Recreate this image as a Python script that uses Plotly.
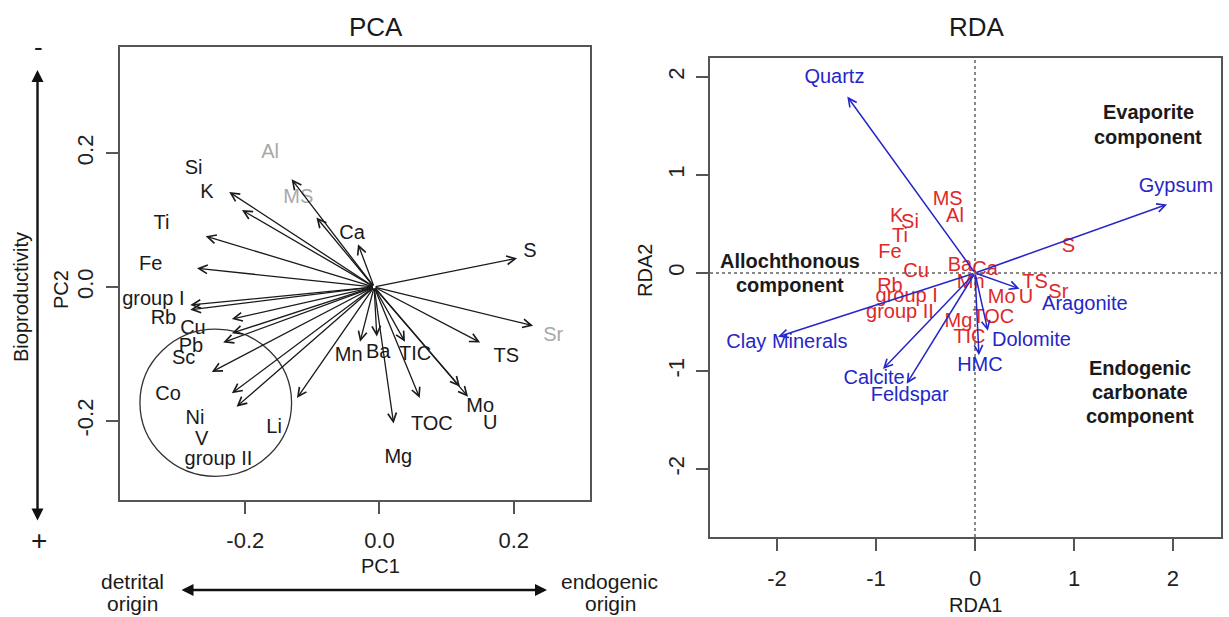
import plotly.graph_objects as go

W, H = 1229, 617
FONT = "Liberation Sans, Arial, sans-serif"

# ---------------- PCA data ----------------
pca_arrow_names = ["S", "Sr", "TS", "Mo", "U", "TOC", "Mg", "TIC", "Ba", "Mn", "Ca", "MS", "Al",
                   "K", "Si", "Ti", "Fe", "group I", "Rb", "Cu", "Pb", "Sc", "Co", "Ni", "V", "Li"]
pca_pc1 = [0.205, 0.229, 0.150, 0.132, 0.120, 0.060, 0.021, 0.038, -0.004, -0.029, -0.032, -0.094, -0.131,
           -0.224, -0.205, -0.259, -0.272, -0.282, -0.282, -0.220, -0.220, -0.233, -0.250, -0.220, -0.213, -0.123]
pca_pc2 = [0.043, -0.058, -0.083, -0.164, -0.149, -0.166, -0.204, -0.082, -0.074, -0.082, 0.064, 0.104, 0.161,
           0.142, 0.115, 0.076, 0.028, -0.027, -0.034, -0.048, -0.069, -0.083, -0.127, -0.159, -0.179, -0.166]
pca_origin = (-0.008, 0.0)

pca_label_text = ["S", "Sr", "TS", "Mo", "U", "TOC", "Mg", "TIC", "Ba", "Mn", "Ca", "MS", "Al",
                  "K", "Si", "Ti", "Fe", "group I", "Rb", "Cu", "Pb", "Sc", "Co", "Ni", "V", "Li", "group II"]
pca_label_x = [0.224, 0.259, 0.189, 0.150, 0.165, 0.078, 0.028, 0.053, -0.002, -0.046, -0.041, -0.121, -0.163,
               -0.257, -0.277, -0.325, -0.341, -0.337, -0.322, -0.278, -0.281, -0.292, -0.315, -0.275, -0.265, -0.157, -0.240]
pca_label_y = [0.052, -0.074, -0.105, -0.179, -0.205, -0.206, -0.256, -0.102, -0.099, -0.103, 0.079, 0.133, 0.200,
               0.141, 0.176, 0.094, 0.033, -0.019, -0.048, -0.063, -0.089, -0.108, -0.161, -0.198, -0.228, -0.211, -0.258]
pca_gray_labels = ["Sr", "MS", "Al"]

pca_circle_center = (-0.244, -0.173)
pca_circle_radius = (0.113, 0.110)

pca_ticks = [-0.2, 0.0, 0.2]
pca_ticktext = ["-0.2", "0.0", "0.2"]

# ---------------- RDA data ----------------
rda_env_names = ["Quartz", "Gypsum", "Clay Minerals", "Calcite", "Feldspar", "HMC", "Dolomite", "Aragonite"]
rda_env_x = [-1.29, 1.94, -1.99, -0.93, -0.69, 0.04, 0.13, 0.45]
rda_env_y = [1.80, 0.70, -0.65, -0.98, -1.13, -0.84, -0.59, -0.16]
rda_env_label_x = [-1.42, 2.03, -1.90, -1.02, -0.66, 0.05, 0.57, 1.11]
rda_env_label_y = [1.99, 0.88, -0.71, -1.08, -1.26, -0.95, -0.69, -0.33]

rda_species = ["MS", "Al", "K", "Si", "Ti", "Fe", "Cu", "Ba", "Ca", "Mn", "Rb", "group I", "group II",
               "Mg", "TOC", "TIC", "Mo", "U", "TS", "Sr", "S"]
rda_sp_x = [-0.276, -0.202, -0.791, -0.657, -0.758, -0.859, -0.596, -0.152, 0.101, -0.044, -0.859, -0.690, -0.758,
            -0.168, 0.185, -0.057, 0.269, 0.515, 0.606, 0.842, 0.943]
rda_sp_y = [0.745, 0.574, 0.574, 0.513, 0.370, 0.201, 0.013, 0.071, 0.031, -0.105, -0.140, -0.242, -0.411,
            -0.497, -0.462, -0.667, -0.258, -0.258, -0.105, -0.207, 0.269]

rda_ticks = [-2, -1, 0, 1, 2]
rda_ticktext = ["-2", "-1", "0", "1", "2"]

# ---------------- styles ----------------
BLACK = "#1a1a1a"
GRAY = "#a8a8a8"
RED = "#e02828"
BLUE = "#2626c8"
AXIS = "#555555"


def px_x(p):
    return p / W


def px_y(p):
    return 1 - p / H


fig = go.Figure()

# PCA labels
fig.add_trace(go.Scatter(
    x=pca_label_x, y=pca_label_y, text=pca_label_text, mode="text",
    textposition="middle center",
    textfont=dict(family=FONT, size=20,
                  color=[GRAY if t in pca_gray_labels else BLACK for t in pca_label_text]),
    xaxis="x", yaxis="y", hoverinfo="skip", showlegend=False, cliponaxis=False))

# RDA species labels (red)
fig.add_trace(go.Scatter(
    x=rda_sp_x, y=rda_sp_y, text=rda_species, mode="text", textposition="middle center",
    textfont=dict(family=FONT, size=20, color=RED),
    xaxis="x2", yaxis="y2", hoverinfo="skip", showlegend=False, cliponaxis=False))

# RDA environmental labels (blue)
fig.add_trace(go.Scatter(
    x=rda_env_label_x, y=rda_env_label_y, text=rda_env_names, mode="text", textposition="middle center",
    textfont=dict(family=FONT, size=20, color=BLUE),
    xaxis="x2", yaxis="y2", hoverinfo="skip", showlegend=False, cliponaxis=False))

annotations = []
# PCA arrows
for xx, yy in zip(pca_pc1, pca_pc2):
    annotations.append(dict(
        x=xx, y=yy, ax=pca_origin[0], ay=pca_origin[1], xref="x", yref="y", axref="x", ayref="y",
        text="", showarrow=True, arrowhead=5, arrowsize=1.3, arrowwidth=1.3, arrowcolor=BLACK,
        standoff=0, startstandoff=0))
# RDA arrows
for xx, yy in zip(rda_env_x, rda_env_y):
    annotations.append(dict(
        x=xx, y=yy, ax=0, ay=0, xref="x2", yref="y2", axref="x2", ayref="y2",
        text="", showarrow=True, arrowhead=5, arrowsize=1.1, arrowwidth=1.5, arrowcolor=BLUE,
        standoff=0, startstandoff=0))


def txt(text, x, y, size=20, color=BLACK, textangle=0, bold=False, xref="paper", yref="paper"):
    if bold:
        text = "<b>" + text + "</b>"
    annotations.append(dict(x=x, y=y, xref=xref, yref=yref, text=text, showarrow=False,
                            font=dict(family=FONT, size=size, color=color), textangle=textangle,
                            xanchor="center", yanchor="middle"))


# titles
txt("PCA", px_x(376), px_y(27), size=26)
txt("RDA", px_x(977), px_y(27), size=26)
# axis titles
txt("PC1", px_x(380), px_y(566), size=20)
txt("PC2", px_x(61), px_y(290), size=20, textangle=-90)
txt("RDA1", px_x(975), px_y(605), size=20)
txt("RDA2", px_x(645), px_y(271), size=20, textangle=-90)
# PCA interpretive annotations
txt("Bioproductivity", px_x(21), px_y(297), size=20, textangle=-90)
txt("-", px_x(38), px_y(47), size=26)
txt("+", px_x(39), px_y(540), size=28)
txt("detrital", px_x(132), px_y(581), size=21)
txt("origin", px_x(132), px_y(603), size=21)
txt("endogenic", px_x(609), px_y(581), size=21)
txt("origin", px_x(610), px_y(603), size=21)

# double-headed arrows (paper)
annotations.append(dict(x=px_x(37.5), y=px_y(70), xref="paper", yref="paper", ax=0, ay=452,
                        text="", showarrow=True, arrowhead=2, arrowside="end+start", arrowsize=1.0,
                        arrowwidth=2.4, arrowcolor="#111111", standoff=0, startstandoff=0))
annotations.append(dict(x=px_x(547), y=px_y(590), xref="paper", yref="paper", ax=-367, ay=0,
                        text="", showarrow=True, arrowhead=2, arrowside="end+start", arrowsize=1.0,
                        arrowwidth=2.4, arrowcolor="#111111", standoff=0, startstandoff=0))

# RDA component annotations (bold)
txt("Evaporite", 1.75, 1.64, size=20, bold=True, xref="x2", yref="y2")
txt("component", 1.75, 1.39, size=20, bold=True, xref="x2", yref="y2")
txt("Allochthonous", -1.87, 0.12, size=20, bold=True, xref="x2", yref="y2")
txt("component", -1.87, -0.12, size=20, bold=True, xref="x2", yref="y2")
txt("Endogenic", 1.67, -0.97, size=20, bold=True, xref="x2", yref="y2")
txt("carbonate", 1.67, -1.21, size=20, bold=True, xref="x2", yref="y2")
txt("component", 1.67, -1.46, size=20, bold=True, xref="x2", yref="y2")

shapes = [
    dict(type="circle", xref="x", yref="y",
         x0=pca_circle_center[0] - pca_circle_radius[0], x1=pca_circle_center[0] + pca_circle_radius[0],
         y0=pca_circle_center[1] - pca_circle_radius[1], y1=pca_circle_center[1] + pca_circle_radius[1],
         line=dict(color="#333333", width=1.3)),
    dict(type="line", xref="x2", yref="y2 domain", x0=0, x1=0, y0=0, y1=1,
         line=dict(color="#888888", width=2, dash="dot"), layer="below"),
    dict(type="line", xref="x2 domain", yref="y2", x0=0, x1=1, y0=0, y1=0,
         line=dict(color="#888888", width=2, dash="dot"), layer="below"),
]

axis_common = dict(showgrid=False, zeroline=False, showline=True, mirror=True, linecolor=AXIS,
                   linewidth=1.5, ticks="outside", ticklen=12, tickwidth=1.5, tickcolor=AXIS,
                   tickfont=dict(family=FONT, size=22, color="#222222"), fixedrange=True)

fig.update_layout(
    width=W, height=H, autosize=False,
    margin=dict(l=0, r=0, t=0, b=0),
    paper_bgcolor="white", plot_bgcolor="white",
    showlegend=False,
    xaxis=dict(domain=[px_x(120), px_x(590)], range=[-0.3867, 0.3137], anchor="y",
               tickvals=pca_ticks, ticktext=pca_ticktext, ticklabelstandoff=8, **axis_common),
    yaxis=dict(domain=[px_y(500), px_y(47)], range=[-0.3184, 0.3587], anchor="x",
               tickvals=pca_ticks, ticktext=pca_ticktext, tickangle=-90, ticklabelstandoff=4, **axis_common),
    xaxis2=dict(domain=[px_x(710), px_x(1221)], range=[-2.677, 2.485], anchor="y2",
                tickvals=rda_ticks, ticktext=rda_ticktext, ticklabelstandoff=9, **axis_common),
    yaxis2=dict(domain=[px_y(537), px_y(58)], range=[-2.694, 2.194], anchor="x2",
                tickvals=rda_ticks, ticktext=rda_ticktext, tickangle=-90, ticklabelstandoff=3, **axis_common),
    annotations=annotations,
    shapes=shapes,
)

fig.write_html("out.html", config={"displayModeBar": False},
               post_script="document.body.style.margin='0';document.body.style.overflow='hidden';")
